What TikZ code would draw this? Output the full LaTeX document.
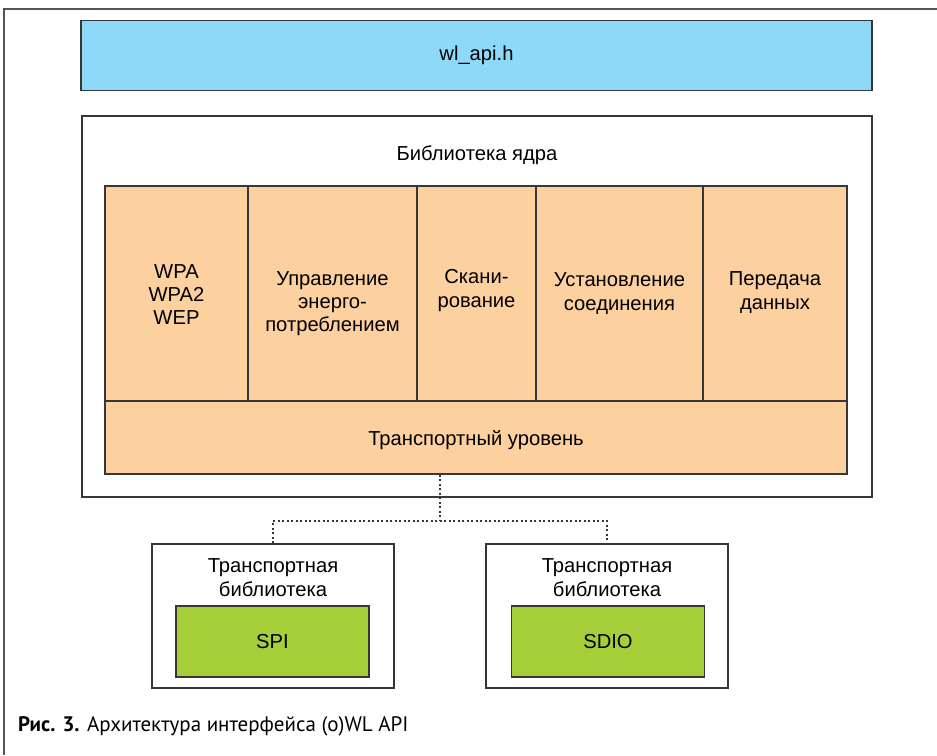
\documentclass[tikz,border=0pt]{standalone}
\usepackage{fontspec}
\setmainfont{Liberation Sans}
\newfontfamily\capfont{PT Sans}
\usepackage{xcolor}
\usepackage{tikz}
\usetikzlibrary{positioning}

\definecolor{apiblue}{RGB}{142,217,247}
\definecolor{coreorange}{RGB}{253,208,160}
\definecolor{busgreen}{RGB}{166,206,57}
\definecolor{edgegray}{RGB}{55,55,55}

\begin{document}
\begin{tikzpicture}[x=1pt, y=-1pt,
        box/.style={draw=edgegray, line width=1.2pt, inner sep=0pt},
        cell/.style={box, fill=coreorange, minimum height=215pt},
        lbl/.style={align=center, inner sep=0pt},
        link/.style={edgegray, line width=1.1pt, dash pattern=on 2pt off 2.5pt}]
        \useasboundingbox (0,0) rectangle (937,755);
        \fontsize{20.2}{23.3}\selectfont

        % Rahmen
        \draw[edgegray!85, line width=1.5pt] (4,755) -- (4,9) -- (937,9);

        % API
        \node[box, fill=apiblue, minimum width=791pt, minimum height=70pt] (api) at (476.5,55.5) {wl\_api.h};

        % Bibliothek
        \node[box, fill=white, minimum width=790pt, minimum height=381pt] (core) at (477,306.5) {};
        \node[lbl] (coretitle) at (477,155) {Библиотека ядра};

        % Module
        \node[cell, minimum width=143pt] (sec)  at (176.5,293.5) {};
        \node[cell, minimum width=169pt] (pwr)  at (332.5,293.5) {};
        \node[cell, minimum width=119pt] (scan) at (476.5,293.5) {};
        \node[cell, minimum width=167pt] (conn) at (619.5,293.5) {};
        \node[cell, minimum width=144pt] (data) at (775,293.5) {};
        \node[lbl] (sectext)  at ([yshift=-1pt]sec.center)  {WPA\\WPA2\\WEP};
        \node[lbl] (pwrtext)  at ([yshift=-10pt]pwr.center) {Управление\\энерго-\\потреблением};
        \node[lbl] (scantext) at ([yshift=3pt]scan.center)  {Скани-\\рование};
        \node[lbl] (conntext) at (conn.center) {Установление\\соединения};
        \node[lbl] (datatext) at ([yshift=1pt]data.center)  {Передача\\данных};
        \node[box, fill=coreorange, minimum width=742pt, minimum height=73pt] (transport) at (476,437.5) {};
        \node[lbl] (transporttext) at ([yshift=-3pt]transport.center) {Транспортный уровень};

        % Transportbibliotheken
        \node[box, fill=white, minimum width=242pt, minimum height=144pt] (tlspi) at (273,616) {};
        \node[lbl] (tlspititle) at (273,577.5) {Транспортная\\библиотека};
        \node[box, fill=busgreen, minimum width=193pt, minimum height=71pt] (spi) at (272.5,641.5) {SPI};

        \node[box, fill=white, minimum width=242pt, minimum height=144pt] (tlsdio) at (607,616) {};
        \node[lbl] (tlsdiotitle) at (607,577.5) {Транспортная\\библиотека};
        \node[box, fill=busgreen, minimum width=193pt, minimum height=71pt] (sdio) at (608,641.5) {SDIO};

        % Verbindungen
        \coordinate (split) at (440,521);
        \draw[link] (split |- transport.south) -- (split);
        \draw[link] (tlspi.north) |- (split) -| (tlsdio.north);

        % Bildunterschrift
        \node[anchor=base west, inner sep=0pt, font=\capfont\fontsize{21}{25}\selectfont] (caption) at (18,731)
            {\textbf{Рис. 3.} Архитектура интерфейса (о)WL API};
    \end{tikzpicture}
\end{document}
